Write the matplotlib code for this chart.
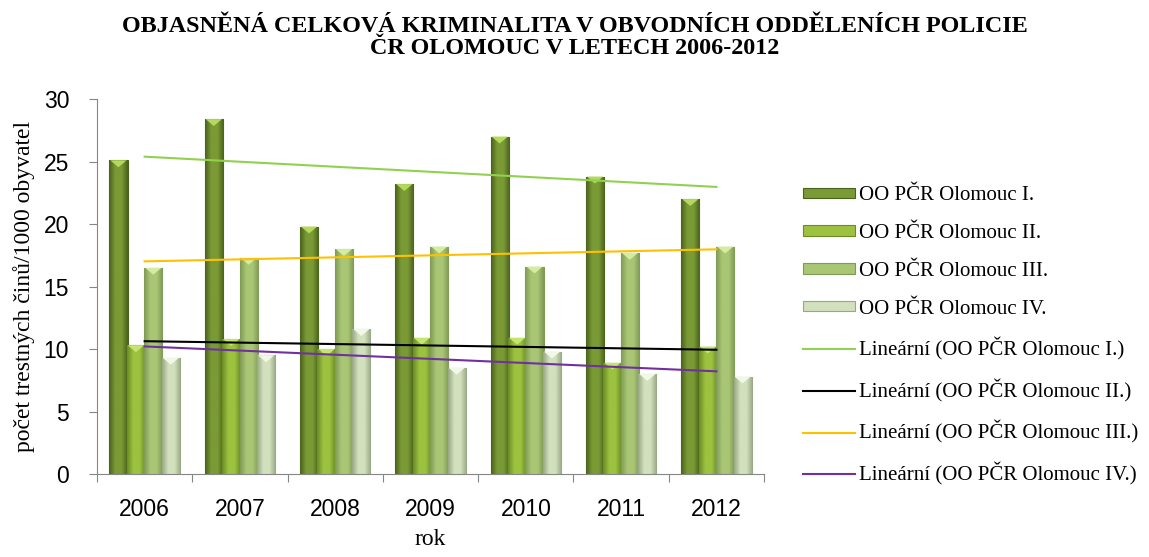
import matplotlib
matplotlib.use("Agg")
import matplotlib.pyplot as plt
import numpy as np
from matplotlib.colors import LinearSegmentedColormap
from matplotlib.patches import Polygon

years = ["2006", "2007", "2008", "2009", "2010", "2011", "2012"]
series_names = [
    "OO PČR Olomouc I.",
    "OO PČR Olomouc II.",
    "OO PČR Olomouc III.",
    "OO PČR Olomouc IV.",
]
olomouc_1 = [25.1, 28.4, 19.8, 23.2, 27.0, 23.8, 22.0]
olomouc_2 = [10.3, 10.8, 10.0, 10.9, 10.9, 8.9, 10.2]
olomouc_3 = [16.5, 17.3, 18.0, 18.2, 16.6, 17.7, 18.2]
olomouc_4 = [9.3, 9.5, 11.6, 8.5, 9.8, 8.0, 7.8]
series_values = [olomouc_1, olomouc_2, olomouc_3, olomouc_4]

# (edge, mid, bevel) colours for the bars
bar_shades = [
    ("#4a631c", "#7a9a35", "#b5d95c"),
    ("#6a8c26", "#9cc23f", "#c6e56e"),
    ("#7f9a55", "#a9c675", "#d4eca0"),
    ("#98a884", "#d2e0bd", "#f2f8e6"),
]
trend_colors = ["#92d050", "#000000", "#ffc000", "#7030a0"]

serif = "Liberation Serif"
sans = "Liberation Sans"

fig = plt.figure(figsize=(11.49, 5.57), dpi=100)
ax = fig.add_axes([0.0844, 0.149, 0.5806, 0.673])

x = np.arange(len(years)) + 0.5
width = 0.19
step = 0.183

bar_handles = []
for k, (name, vals) in enumerate(zip(series_names, series_values)):
    edge, mid, bevel = bar_shades[k]
    bars = ax.bar(x + (k - 1.5) * step, vals, width=width, color=mid,
                  edgecolor=edge, linewidth=0.8, label=name, zorder=2)
    cmap = LinearSegmentedColormap.from_list("b%d" % k, [edge, mid, mid, edge])
    grad = np.linspace(0, 1, 64).reshape(1, -1)
    for b in bars:
        bx, by, bw, bh = b.get_x(), b.get_y(), b.get_width(), b.get_height()
        im = ax.imshow(grad, cmap=cmap, aspect="auto", zorder=2.1,
                       extent=(bx, bx + bw, by, by + bh))
        im.set_clip_path(b)
        tri = Polygon([(bx + 0.01, by + bh), (bx + bw - 0.01, by + bh),
                       (bx + bw / 2, by + bh - 0.55)], closed=True,
                      facecolor=bevel, edgecolor="none", zorder=2.2)
        ax.add_patch(tri)
    bar_handles.append(bars)

trend_handles = []
for k, vals in enumerate(series_values):
    coef = np.polyfit(np.arange(len(vals)), vals, 1)
    fit = np.polyval(coef, np.arange(len(vals)))
    (ln,) = ax.plot(x, fit, color=trend_colors[k], linewidth=1.5, zorder=3,
                    label="Lineární (%s)" % series_names[k])
    trend_handles.append(ln)

ax.set_xlim(0, len(years))
ax.set_ylim(0, 30)
ax.set_yticks(range(0, 31, 5))
ax.set_xticks(range(len(years) + 1))
ax.set_xticklabels([])
ax.set_xticks(x, minor=True)
ax.set_xticklabels(years, minor=True)
ax.tick_params(axis="x", which="major", length=6, color="#868686", direction="out")
ax.tick_params(axis="x", which="minor", length=0, pad=17)
ax.tick_params(axis="y", length=6, color="#868686", direction="out", pad=14)
for lbl in ax.get_xticklabels(minor=True) + ax.get_yticklabels():
    lbl.set_fontfamily(sans)
    lbl.set_fontsize(16.5)

for side in ("top", "right"):
    ax.spines[side].set_visible(False)
for side in ("left", "bottom"):
    ax.spines[side].set_color("#868686")

ax.set_ylabel("počet trestných činů/1000 obyvatel", fontfamily=serif, fontsize=17, labelpad=6)
ax.set_xlabel("rok", fontfamily=serif, fontsize=17, labelpad=6)

fig.suptitle("OBJASNĚNÁ CELKOVÁ KRIMINALITA V OBVODNÍCH ODDĚLENÍCH POLICIE\nČR OLOMOUC V LETECH 2006-2012",
             fontfamily=serif, fontweight="bold", fontsize=17.4, x=0.5, y=0.972, linespacing=1.1)

handles = bar_handles + trend_handles
labels = series_names + ["Lineární (%s)" % n for n in series_names]
fig.legend(handles, labels, loc="center left", bbox_to_anchor=(0.699, 1 - 336 / 557),
           frameon=False, prop={"family": serif, "size": 15}, labelspacing=0.9,
           handlelength=2.5, handleheight=0.4, handletextpad=0.2, borderpad=0,
           borderaxespad=0)

fig.savefig("out.png", dpi=100)
